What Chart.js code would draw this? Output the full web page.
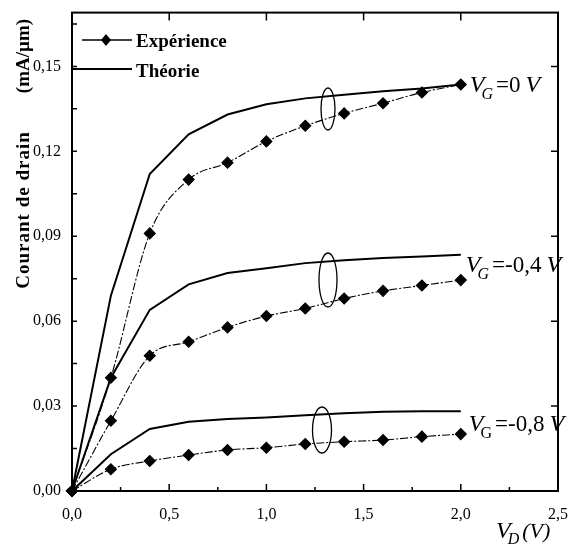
<!DOCTYPE html>
<html>
<head>
<meta charset="utf-8">
<script src="https://cdn.jsdelivr.net/npm/chart.js@4.4.0/dist/chart.umd.min.js"></script>
<style>
  html, body { margin: 0; padding: 0; background: #fff; }
</style>
</head>
<body>
<canvas id="chart" width="574" height="547"></canvas>
<script>
// V_D values (V)
const vd = [0, 0.2, 0.4, 0.6, 0.8, 1.0, 1.2, 1.4, 1.6, 1.8, 2.0];

// experimental drain current (mA/um)
const expVg0 = [0, 0.040, 0.091, 0.110, 0.116, 0.1235, 0.129, 0.1334, 0.137, 0.1408, 0.1436];
const expVg04 = [0, 0.0248, 0.0478, 0.0527, 0.0578, 0.0618, 0.0645, 0.068, 0.0707, 0.0726, 0.0745];
const expVg08 = [0, 0.0077, 0.0106, 0.0127, 0.0145, 0.0153, 0.0166, 0.0174, 0.018, 0.0192, 0.0201];

// theory
const theoVg0 = [0, 0.069, 0.112, 0.126, 0.133, 0.1366, 0.1387, 0.140, 0.1412, 0.1422, 0.1436];
const theoVg04 = [0, 0.040, 0.064, 0.073, 0.077, 0.0787, 0.0805, 0.0815, 0.0823, 0.0828, 0.0835];
const theoVg08 = [0, 0.013, 0.0219, 0.0245, 0.0254, 0.026, 0.0268, 0.0275, 0.028, 0.0282, 0.0282];

// axis ticks
const xTicks = [0, 0.25, 0.5, 0.75, 1.0, 1.25, 1.5, 1.75, 2.0, 2.25, 2.5];
const xLabels = ["0,0", "", "0,5", "", "1,0", "", "1,5", "", "2,0", "", "2,5"];
const yTicks = [0, 0.015, 0.03, 0.045, 0.06, 0.075, 0.09, 0.105, 0.12, 0.135, 0.15, 0.165];
const yLabels = ["0,00", "", "0,03", "", "0,06", "", "0,09", "", "0,12", "", "0,15", ""];

const serif = "'Liberation Serif', 'DejaVu Serif', serif";

function pts(ys) {
  return vd.map((x, i) => ({ x: x, y: ys[i] }));
}

function expSet(ys) {
  return {
    data: pts(ys),
    showLine: true,
    borderColor: "#000",
    backgroundColor: "#000",
    borderWidth: 1.1,
    borderDash: [8, 2, 2, 2],
    cubicInterpolationMode: "monotone",
    pointStyle: "rectRot",
    pointRadius: 5.5,
    clip: 8,
  };
}

function theoSet(ys) {
  return {
    data: pts(ys),
    showLine: true,
    borderColor: "#000",
    borderWidth: 2,
    pointRadius: 0,
    clip: 8,
  };
}

function diamond(ctx, x, y) {
  ctx.beginPath();
  ctx.moveTo(x, y - 6);
  ctx.lineTo(x + 5, y);
  ctx.lineTo(x, y + 6);
  ctx.lineTo(x - 5, y);
  ctx.closePath();
  ctx.fill();
}

// V with subscript, then the rest of the label
function vLabel(ctx, x, y, sub, subItalic, value) {
  ctx.textAlign = "left";
  ctx.textBaseline = "alphabetic";
  ctx.font = "italic 24px " + serif;
  ctx.fillText("V", x, y);
  let w = ctx.measureText("V").width;
  ctx.font = (subItalic ? "italic " : "") + "16px " + serif;
  ctx.fillText(sub, x + w - 3, y + 7);
  w += ctx.measureText(sub).width;
  ctx.font = "23px " + serif;
  ctx.fillText("=" + value, x + w, y);
  w += ctx.measureText("=" + value).width + 5;
  ctx.font = "italic 24px " + serif;
  ctx.fillText("V", x + w, y);
}

const decor = {
  id: "decor",
  afterDraw(chart) {
    const ctx = chart.ctx;
    const a = chart.chartArea;
    const xs = chart.scales.x;
    const ys = chart.scales.y;
    ctx.save();
    ctx.strokeStyle = "#000";
    ctx.fillStyle = "#000";

    // frame
    ctx.lineWidth = 2;
    ctx.strokeRect(a.left, a.top, a.right - a.left, a.bottom - a.top);

    // inward ticks
    ctx.lineWidth = 1.5;
    ctx.beginPath();
    yTicks.forEach((v, i) => {
      const py = ys.getPixelForValue(v);
      ctx.moveTo(a.left, py);
      ctx.lineTo(a.left + 5, py);
      if (yLabels[i] !== "" && v > 0) {
        ctx.moveTo(a.right, py);
        ctx.lineTo(a.right - 7, py);
      }
    });
    xTicks.forEach((v, i) => {
      const px = xs.getPixelForValue(v);
      const major = xLabels[i] !== "";
      ctx.moveTo(px, a.bottom);
      ctx.lineTo(px, a.bottom - (major ? 7 : 4));
      if (major && v > 0 && v < 2.5) {
        ctx.moveTo(px, a.top);
        ctx.lineTo(px, a.top + 8);
      }
    });
    ctx.stroke();

    // legend
    ctx.lineWidth = 1.5;
    ctx.beginPath();
    ctx.moveTo(82, 40);
    ctx.lineTo(132, 40);
    ctx.stroke();
    diamond(ctx, 106, 40);
    ctx.lineWidth = 2;
    ctx.beginPath();
    ctx.moveTo(a.left, 69);
    ctx.lineTo(132, 69);
    ctx.stroke();
    ctx.font = "bold 19px " + serif;
    ctx.textAlign = "left";
    ctx.textBaseline = "alphabetic";
    ctx.fillText("Expérience", 136, 47);
    ctx.fillText("Théorie", 136, 77);

    // ellipses grouping each pair of curves
    ctx.lineWidth = 1.3;
    [[328, 109, 7, 21], [328, 280, 9, 27], [322, 430, 9.5, 23]].forEach(e => {
      ctx.beginPath();
      ctx.ellipse(e[0], e[1], e[2], e[3], 0, 0, Math.PI * 2);
      ctx.stroke();
    });

    // curve labels
    const lx = xs.getPixelForValue(2.0) + 9;
    vLabel(ctx, lx, 92, "G", true, "0");
    vLabel(ctx, lx - 4, 272, "G", true, "-0,4");
    vLabel(ctx, lx - 1, 431, "G", false, "-0,8");

    // axis titles
    ctx.save();
    ctx.translate(29, 0);
    ctx.rotate(-Math.PI / 2);
    ctx.font = "bold 19px " + serif;
    ctx.textAlign = "center";
    ctx.textBaseline = "alphabetic";
    ctx.letterSpacing = "1px";
    ctx.fillText("Courant de drain", -210, 0);
    ctx.letterSpacing = "0px";
    ctx.fillText("(mA/µm)", -56, 0);
    ctx.restore();

    ctx.textAlign = "left";
    ctx.font = "italic 24px " + serif;
    ctx.fillText("V", 496, 538);
    let w = ctx.measureText("V").width;
    ctx.font = "italic 16px " + serif;
    ctx.fillText("D", 496 + w - 3, 544);
    w += ctx.measureText("D").width;
    ctx.font = "italic 22px " + serif;
    ctx.fillText("(V)", 496 + w, 538);
    ctx.restore();
  },
};

new Chart(document.getElementById("chart"), {
  type: "scatter",
  data: {
    datasets: [
      expSet(expVg0), expSet(expVg04), expSet(expVg08),
      theoSet(theoVg0), theoSet(theoVg04), theoSet(theoVg08),
    ],
  },
  options: {
    responsive: false,
    animation: false,
    layout: { padding: { top: 12, right: 13, left: 0, bottom: 0 } },
    plugins: { legend: { display: false }, tooltip: { enabled: false } },
    scales: {
      x: {
        type: "linear",
        min: 0,
        max: 2.5,
        afterBuildTicks: s => { s.ticks = xTicks.map(v => ({ value: v })); },
        afterFit: s => { s.height = 56; },
        grid: { display: false },
        border: { display: false },
        ticks: {
          padding: 6,
          color: "#000",
          font: { family: serif, size: 16 },
          maxRotation: 0,
          autoSkip: false,
          callback: (v, i) => xLabels[i],
        },
      },
      y: {
        type: "linear",
        min: 0,
        max: 0.169,
        afterBuildTicks: s => { s.ticks = yTicks.map(v => ({ value: v })); },
        afterFit: s => { s.width = 72; },
        grid: { display: false },
        border: { display: false },
        ticks: {
          padding: 3,
          color: "#000",
          font: { family: serif, size: 16 },
          autoSkip: false,
          callback: (v, i) => yLabels[i],
        },
      },
    },
  },
  plugins: [decor],
});
</script>
</body>
</html>
